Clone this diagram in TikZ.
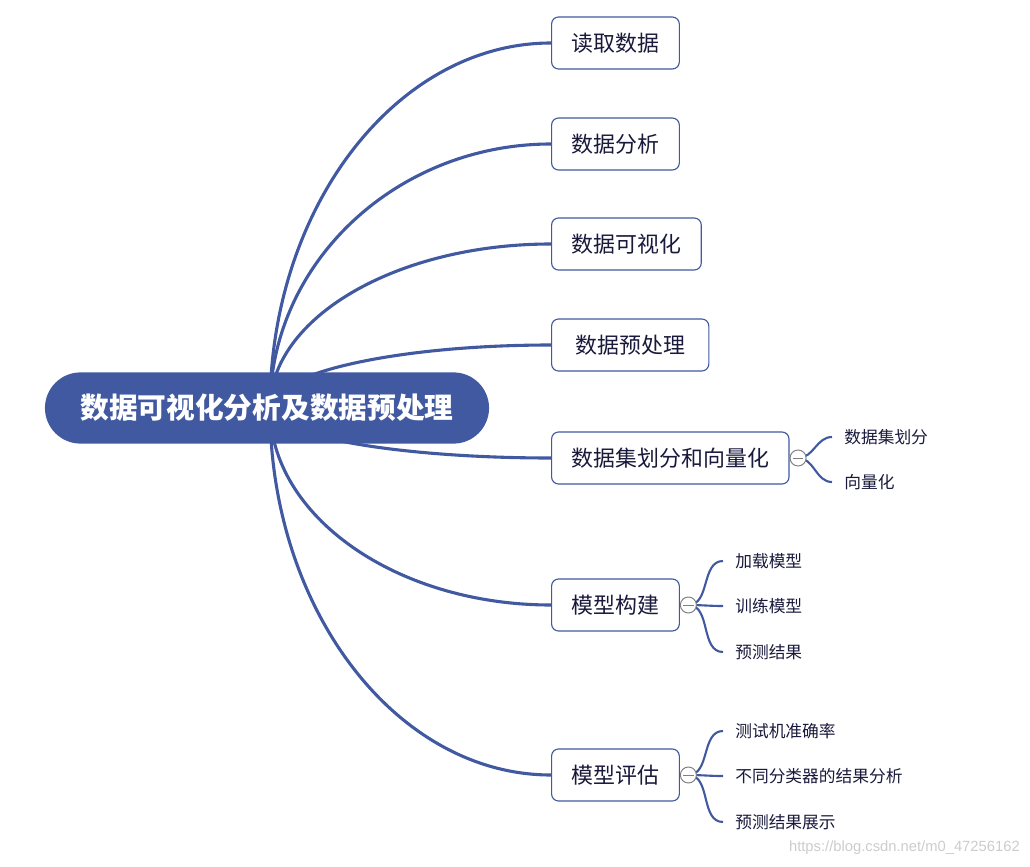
\documentclass[tikz,border=0pt]{standalone}
\usepackage{fontspec}
\setmainfont{Noto Sans CJK SC}
\newfontfamily\urlfont{Liberation Sans}
\usetikzlibrary{calc,positioning,backgrounds}
\definecolor{mapblue}{RGB}{64,89,160}
\definecolor{maptext}{RGB}{25,25,60}
\tikzset{
  root/.style={fill=mapblue, text=white, font=\fontsize{20.4}{24}\selectfont\bfseries,
    minimum width=11.1cm, minimum height=1.78cm, rounded corners=0.89cm, inner sep=0pt},
  topic/.style={draw=mapblue, fill=white, text=maptext, line width=0.8pt, rounded corners=5pt,
    font=\fontsize{15.6}{18}\selectfont, minimum height=1.3cm, inner xsep=0.5cm, anchor=west},
  leaf/.style={text=maptext, font=\fontsize{11.9}{14}\selectfont, inner xsep=0.3cm, inner ysep=2pt, anchor=west},
  fold/.style={circle, draw=gray, fill=white, line width=0.7pt, minimum size=0.4cm, inner sep=0pt,
    path picture={\draw[gray, line width=0.7pt] ([xshift=-0.13cm]path picture bounding box.center)
      -- ([xshift=0.13cm]path picture bounding box.center);}},
  branch/.style={draw=mapblue, line width=2.2pt},
  twig/.style={draw=mapblue, line width=1.5pt},
}
\begin{document}
\begin{tikzpicture}[x=0.025cm, y=-0.025cm]
    \useasboundingbox (0,0) rectangle (1030,866);
    \coordinate (hub) at (270,408);

    % Main topics
    \node[topic] (read) at (551,43) {读取数据};
    \node[topic] (analyse) at (551,144) {数据分析};
    \node[topic] (visual) at (551,244) {数据可视化};
    \node[topic, minimum width=3.93cm] (prep) at (551,345) {数据预处理};
    \node[topic] (split) at (551,458) {数据集划分和向量化};
    \node[topic] (build) at (551,605) {模型构建};
    \node[topic] (assess) at (551,775) {模型评估};

    % Branches behind the nodes
    \begin{scope}[on background layer]
        \foreach \t in {read,analyse,visual,prep,split,build,assess} {
            \draw[branch] (hub) .. controls ($(hub)!0.55!(hub |- \t.west)$)
                and ($(\t.west)!0.55!(hub |- \t.west)$) .. (\t.west);
        }
    \end{scope}

    % Centre
    \node[root] (root) at (267,408) {数据可视化分析及数据预处理};

    % Fold markers
    \node[fold, right=0pt of split] (splitfold) {};
    \node[fold, right=0pt of build] (buildfold) {};
    \node[fold, right=0pt of assess] (assessfold) {};

    % Leaves
    \node[leaf] (s1) at (832,437) {数据集划分};
    \node[leaf] (s2) at (832,482) {向量化};
    \node[leaf] (b1) at (723,561) {加载模型};
    \node[leaf] (b2) at (723,606) {训练模型};
    \node[leaf] (b3) at (723,652) {预测结果};
    \node[leaf] (e1) at (723,731) {测试机准确率};
    \node[leaf] (e2) at (723,776) {不同分类器的结果分析};
    \node[leaf] (e3) at (723,822) {预测结果展示};

    \begin{scope}[on background layer]
        \foreach \l in {s1,s2} {
            \draw[twig] (splitfold.center) to[out=0, in=180] (\l.west);
        }
        \foreach \l in {b1,b2,b3} {
            \draw[twig] (buildfold.center) to[out=0, in=180] (\l.west);
        }
        \foreach \l in {e1,e2,e3} {
            \draw[twig] (assessfold.center) to[out=0, in=180] (\l.west);
        }
    \end{scope}

    % Watermark
    \node[font=\urlfont\fontsize{10.5}{12}\selectfont, text=gray!40, anchor=east, inner sep=0pt]
        (mark) at (1020,848) {https://blog.csdn.net/m0\_47256162};
\end{tikzpicture}
\end{document}
